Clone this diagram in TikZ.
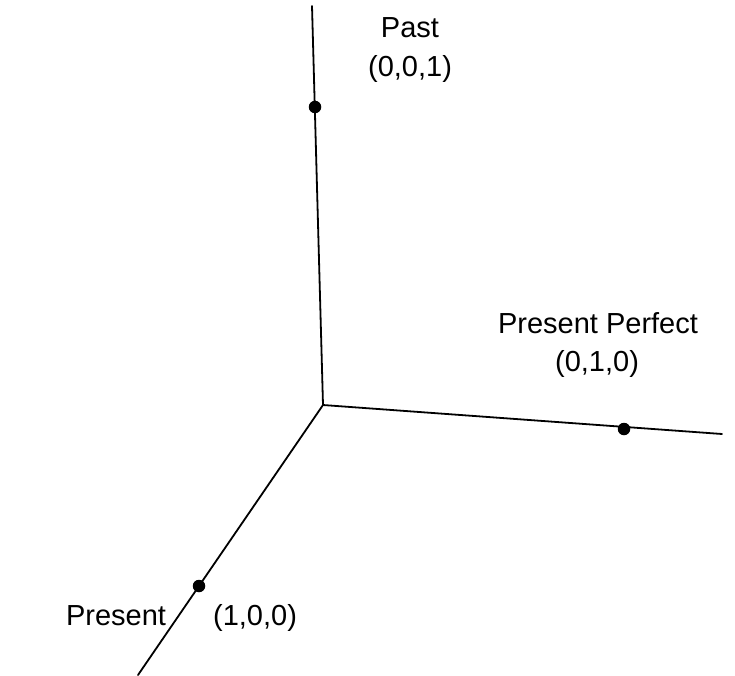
\documentclass[tikz,border=0pt]{standalone}
\usepackage{fontspec}
\setmainfont{Liberation Sans}
\begin{document}
\begin{tikzpicture}[x=1pt,y=-1pt,
  axis/.style={line width=1.8pt,line cap=round},
  dot/.style={circle,fill=black,inner sep=0pt,minimum size=12.5pt},
  lbl/.style={anchor=base,inner sep=0pt,font=\fontsize{29}{34}\selectfont}]
\useasboundingbox (0,0) rectangle (735,675);
% origin and axis ends
\coordinate (O) at (323,405);
\coordinate (zend) at (312,6);
\coordinate (yend) at (722,434);
\coordinate (xend) at (138,675);
\draw[axis] (O) -- (zend);
\draw[axis] (O) -- (yend);
\draw[axis] (O) -- (xend);
% unit points on the axes
\node[dot] (past) at (315,107) {};
\node[dot] (perf) at (624,429) {};
\node[dot] (pres) at (199,586) {};
% labels
\node[lbl] (pastname) at (410,37) {Past};
\node[lbl] (pastcoord) at (410,76) {(0,0,1)};
\node[lbl] (perfname) at (598,333) {Present Perfect};
\node[lbl] (perfcoord) at (597,371) {(0,1,0)};
\node[lbl] (presname) at (116,625) {Present};
\node[lbl] (prescoord) at (255,625) {(1,0,0)};
\end{tikzpicture}
\end{document}
